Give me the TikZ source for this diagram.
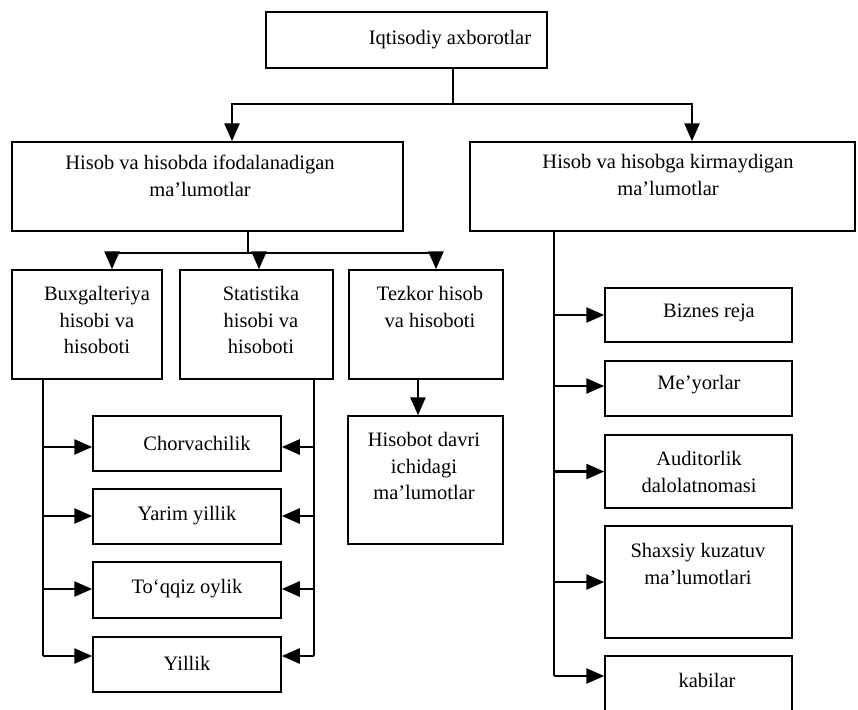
\documentclass[tikz,border=0pt]{standalone}
\usepackage{fontspec}
\setmainfont{Liberation Serif}
\usetikzlibrary{arrows.meta,calc}
\newcommand{\fs}{\fontsize{20.5}{26.5}\selectfont}
\tikzset{
  box/.style={draw, line width=1.5pt, inner sep=0pt, rectangle},
  conn/.style={line width=2.6pt},
  arr/.style={line width=2.6pt, -{Triangle[length=18pt,width=15pt]}},
  txt/.style={align=center, font=\fs, inner sep=0pt}
}
\begin{document}
\begin{tikzpicture}[x=1pt,y=-1pt]
\useasboundingbox[fill=white] (0,0) rectangle (858,709);
% boxes
\node[box, minimum width=281pt, minimum height=56pt] (top) at (406.5,40) {};
\node[box, minimum width=391pt, minimum height=89pt] (hl) at (207.5,186.5) {};
\node[box, minimum width=385pt, minimum height=89pt] (hr) at (662.5,186.5) {};
\node[box, minimum width=150pt, minimum height=109pt] (bux) at (87,324.5) {};
\node[box, minimum width=153pt, minimum height=109pt] (stat) at (256.5,324.5) {};
\node[box, minimum width=154pt, minimum height=109pt] (tez) at (426,324.5) {};
\node[box, minimum width=155pt, minimum height=128pt] (hisobot) at (425.5,480) {};
\node[box, minimum width=188pt, minimum height=55pt] (c1) at (187,443.5) {};
\node[box, minimum width=188pt, minimum height=55pt] (c2) at (187,516.5) {};
\node[box, minimum width=188pt, minimum height=56pt] (c3) at (187,590) {};
\node[box, minimum width=188pt, minimum height=55pt] (c4) at (187,664.5) {};
\node[box, minimum width=187pt, minimum height=54pt] (r1) at (698.5,315) {};
\node[box, minimum width=187pt, minimum height=55pt] (r2) at (698.5,388.5) {};
\node[box, minimum width=187pt, minimum height=73pt] (r3) at (698.5,471.5) {};
\node[box, minimum width=187pt, minimum height=112pt] (r4) at (698.5,582) {};
\node[box, minimum width=187pt, minimum height=60pt] (r5) at (698.5,686) {};
% texts
\node[txt] (ttop) at (450,40) {Iqtisodiy axborotlar};
\node[txt] (thl) at (200,176) {Hisob va hisobda ifodalanadigan\\ma’lumotlar};
\node[txt] (thr) at (668,175) {Hisob va hisobga kirmaydigan\\ma’lumotlar};
\node[txt] (tbux) at (97,320) {Buxgalteriya\\hisobi va\\hisoboti};
\node[txt] (tstat) at (261,320) {Statistika\\hisobi va\\hisoboti};
\node[txt] (ttez) at (430,307) {Tezkor hisob\\va hisoboti};
\node[txt] (thisobot) at (424,466) {Hisobot davri\\ichidagi\\ma’lumotlar};
\node[txt] (tc1) at (197,443) {Chorvachilik};
\node[txt] (tc2) at (187,516) {Yarim yillik};
\node[txt] (tc3) at (187,589) {To‘qqiz oylik};
\node[txt] (tc4) at (187,663) {Yillik};
\node[txt] (tr1) at (709,313) {Biznes reja};
\node[txt] (tr2) at (699,385) {Me’yorlar};
\node[txt] (tr3) at (699,472) {Auditorlik\\dalolatnomasi};
\node[txt] (tr4) at (698,564) {Shaxsiy kuzatuv\\ma’lumotlari};
\node[txt] (tr5) at (707,680) {kabilar};
% junction coordinates
\coordinate (j1) at (453,104);
\coordinate (j2) at (248,253);
\coordinate (lv) at (43,379);
\coordinate (rv) at (314,379);
\coordinate (sv) at (554,231);
% top level
\draw[conn] (top.south -| j1) -- (j1);
\draw[arr] (j1) -| ([xshift=24.5pt]hl.north);
\draw[arr] (j1) -| ([xshift=29.5pt]hr.north);
% left hisob box
\draw[conn] ([xshift=40.5pt]hl.south) -- (j2);
\draw[arr] (j2) -| ([xshift=25pt]bux.north);
\draw[arr] (j2) -| ([xshift=2.5pt]stat.north);
\draw[arr] (j2) -| ([xshift=10pt]tez.north);
\draw[arr] ([xshift=-8pt]tez.south) -- ([xshift=-7.5pt]hisobot.north);
% left vertical from Buxgalteriya
\draw[conn] (lv) -- (lv |- 0,656);
\draw[arr] (lv |- 0,447) -- (c1.west |- 0,447);
\draw[arr] (lv |- 0,516) -- (c2.west |- 0,516);
\draw[arr] (lv |- 0,589) -- (c3.west |- 0,589);
\draw[arr] (lv |- 0,656) -- (c4.west |- 0,656);
% right vertical from Statistika
\draw[conn] (rv) -- (rv |- 0,656);
\draw[arr] (rv |- 0,447) -- (c1.east |- 0,447);
\draw[arr] (rv |- 0,516) -- (c2.east |- 0,516);
\draw[arr] (rv |- 0,589) -- (c3.east |- 0,589);
\draw[arr] (rv |- 0,656) -- (c4.east |- 0,656);
% right column
\draw[conn] (sv) -- (sv |- 0,676);
\draw[arr] (sv |- r1.west) -- (r1.west);
\draw[arr] (sv |- 0,386) -- (r2.west |- 0,386);
\draw[arr] (sv |- r3.west) -- (r3.west);
\draw[arr] (sv |- r4.west) -- (r4.west);
\draw[arr] (sv |- 0,676) -- (r5.west |- 0,676);
\end{tikzpicture}
\end{document}
